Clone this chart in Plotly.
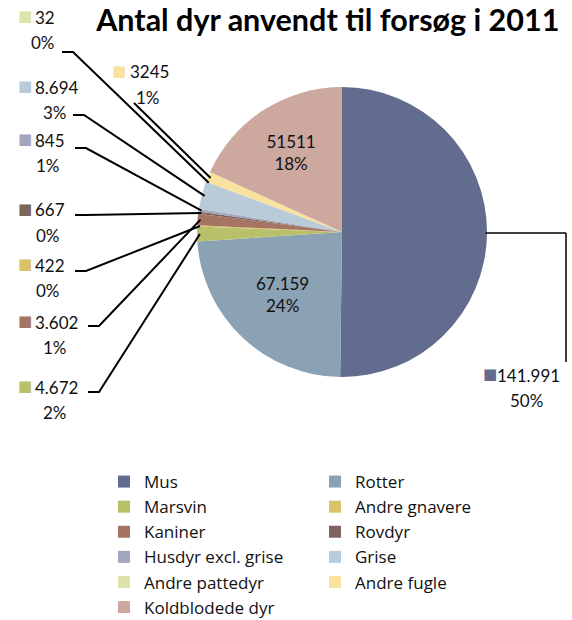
import math
import plotly.graph_objects as go

categories = ["Mus", "Rotter", "Marsvin", "Andre gnavere", "Kaniner", "Rovdyr",
              "Husdyr excl. grise", "Grise", "Andre pattedyr", "Andre fugle",
              "Koldblodede dyr"]
values = [141991, 67159, 4672, 422, 3602, 667, 845, 8694, 32, 3245, 51511]
value_labels = ["141.991", "67.159", "4.672", "422", "3.602", "667", "845",
                "8.694", "32", "3245", "51511"]
pct_labels = ["50%", "24%", "2%", "0%", "1%", "0%", "1%", "3%", "0%", "1%", "18%"]
colors = ["#626C8F", "#8BA1B4", "#B9C06A", "#DCC16B", "#A57462", "#7D655C",
          "#A3A7BE", "#B9CAD9", "#DDE3A9", "#F9E1A0", "#CDA89F"]

W, H = 572, 620
CX, CY, R = 342, 232, 145  # pie centre / radius in pixels

def px(x):
    return x / W

def py(y):
    return 1 - y / H

inside = {1, 10}
texts = [f"{value_labels[i]}<br>{pct_labels[i]}" if i in inside else "" for i in range(len(values))]
positions = ["inside" if i in inside else "none" for i in range(len(values))]

fig = go.Figure(go.Pie(
    labels=categories, values=values, sort=False, direction="clockwise", rotation=0,
    marker=dict(colors=colors, line=dict(width=0)),
    text=texts, textinfo="text", textposition=positions,
    insidetextorientation="horizontal",
    textfont=dict(family="Lato", size=17, color="#111111"),
    domain=dict(x=[px(CX - R), px(CX + R)], y=[py(CY + R), py(CY - R)]),
    hoverinfo="label+value+percent",
))

total = sum(values)
cum = 0
mids = []
for v in values:
    mids.append((cum + v / 2) / total * 2 * math.pi)
    cum += v

def edge(i, rr=1.0):
    a = mids[i]
    return CX + R * rr * math.sin(a), CY - R * rr * math.cos(a)

FS = 17
CHAR_W = {".": 0.27, "%": 0.85}

def text_w(s):
    return sum(CHAR_W.get(c, 0.58) for c in s) * FS

annotations = []
shapes = []

def add_label(i, mx, yv, tx):
    annotations.append(dict(x=px(mx), y=py(yv - 1), xref="paper", yref="paper",
                            text=f"<span style='color:{colors[i]}'>■</span>",
                            showarrow=False, xanchor="left", yanchor="middle",
                            font=dict(family="DejaVu Sans", size=15)))
    annotations.append(dict(x=px(tx), y=py(yv), xref="paper", yref="paper",
                            text=value_labels[i], showarrow=False,
                            xanchor="left", yanchor="middle",
                            font=dict(family="Lato", size=FS, color="#111111")))
    annotations.append(dict(x=px(tx + text_w(value_labels[i]) / 2), y=py(yv + 25),
                            xref="paper", yref="paper",
                            text=pct_labels[i], showarrow=False,
                            xanchor="center", yanchor="middle",
                            font=dict(family="Lato", size=FS, color="#111111")))

# left-side labels: (index, value-line y, leader start x, leader start y)
left = [(8, 17, 62, 52), (7, 87, 73, 115), (6, 140, 75, 148), (5, 210, 75, 215),
        (3, 265, 75, 271), (4, 322, 88, 326), (2, 387, 88, 392)]
for i, yv, xs, ys in left:
    add_label(i, 16, yv, 33)
    ex, ey = edge(i, 0.98)
    shapes.append(dict(type="path", xref="paper", yref="paper",
                       path=f"M {px(xs)},{py(ys)} L {px(xs + 11)},{py(ys)} L {px(ex)},{py(ey)}",
                       line=dict(color="black", width=2)))

# Andre fugle label (upper middle)
i = 9
add_label(i, 110, 72, 128)
ex, ey = edge(i, 0.98)
shapes.append(dict(type="path", xref="paper", yref="paper",
                   path=f"M {px(134)},{py(103)} L {px(ex)},{py(ey)}",
                   line=dict(color="black", width=2)))

# Mus label (lower right)
i = 0
add_label(i, 481, 375, 495)
ex, ey = edge(i, 0.99)
shapes.append(dict(type="line", xref="paper", yref="paper",
                   x0=px(ex), y0=py(ey), x1=px(566), y1=py(ey),
                   line=dict(color="black", width=1.5)))
shapes.append(dict(type="line", xref="paper", yref="paper",
                   x0=px(566), y0=py(ey), x1=px(566), y1=py(362),
                   line=dict(color="black", width=1.5)))

fig.update_layout(
    width=W, height=H,
    margin=dict(l=0, r=0, t=0, b=0, autoexpand=False),
    paper_bgcolor="white", plot_bgcolor="white",
    title=dict(text="<b>Antal dyr anvendt til forsøg i 2011</b>",
               x=0.573, xanchor="center", y=1 - 20 / H, yanchor="middle",
               font=dict(family="Lato", size=30.5, color="black")),
    showlegend=True,
    legend=dict(orientation="h", xref="container", yref="container",
                x=px(104), y=py(464), xanchor="left", yanchor="top",
                entrywidth=166, entrywidthmode="pixels", itemwidth=30,
                font=dict(family="Open Sans", size=17, color="#111111"),
                traceorder="normal"),
    annotations=annotations, shapes=shapes,
)

fig.write_html("out.html", config={"displayModeBar": False},
               post_script="document.body.style.margin='0';")
